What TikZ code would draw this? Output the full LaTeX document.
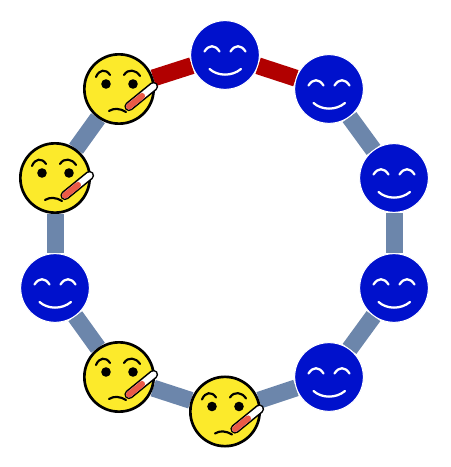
\documentclass[tikz,border=0pt]{standalone}
\usetikzlibrary{backgrounds}
\definecolor{faceblue}{HTML}{0011CC}
\definecolor{faceyellow}{HTML}{FCEA2B}
\definecolor{linkgray}{HTML}{6C86AB}
\definecolor{linkred}{HTML}{B10000}
\definecolor{thermred}{HTML}{EA5A47}
\tikzset{
  x=0.75pt,y=0.75pt,
  bluebase/.style={circle,inner sep=0pt,minimum size=51.5pt,fill=faceblue,draw=white,line width=0.75pt},
  sickbase/.style={circle,inner sep=0pt,minimum size=52pt,fill=faceyellow,draw=black,line width=2pt},
  linkg/.style={draw=linkgray,line width=12.75pt},
  linkr/.style={draw=linkred,line width=12.75pt},
  smile/.pic={
    \draw[white,line width=1.7pt,line cap=round] (-20.5,3.5) .. controls (-16,10.5) and (-10,10.5) .. (-5.5,3.5);
    \draw[white,line width=1.7pt,line cap=round] (5.5,3.5) .. controls (10,10.5) and (16,10.5) .. (20.5,3.5);
    \draw[white,line width=1.7pt,line cap=round] (-15.5,-14) .. controls (-7,-21.5) and (7,-21.5) .. (16,-14);
  },
  fever/.pic={
    \draw[black,line width=1.6pt,line cap=round] (-23,12) .. controls (-20,19.5) and (-13,20.5) .. (-9,14);
    \draw[black,line width=1.6pt,line cap=round] (5,14) .. controls (9,20.5) and (17,19.5) .. (21,13);
    \fill[black] (-13,5) circle (4.8);
    \fill[black] (14,5) circle (4.8);
    \draw[black,line width=1.6pt,line cap=round] (-10,-22) .. controls (-5,-19) and (0,-19) .. (7,-23);
    \draw[black,line width=7pt,line cap=round] (10,-17.5) -- (34.5,2.5);
    \draw[white,line width=4.6pt,line cap=round] (10,-17.5) -- (34.5,2.5);
    \draw[thermred,line width=4.6pt,line cap=round] (10,-17.5) -- (23,-7);
  },
}
\begin{document}
\begin{tikzpicture}
\useasboundingbox (0,0) rectangle (450,467);
\node[bluebase] (a) at (225,412) {};
\node[bluebase] (b) at (329,378) {};
\node[bluebase] (c) at (394,289) {};
\node[bluebase] (d) at (394,179) {};
\node[bluebase] (e) at (329,90) {};
\node[sickbase] (f) at (225,55.5) {};
\node[sickbase] (g) at (119,90) {};
\node[bluebase] (h) at (55,179) {};
\node[sickbase] (i) at (55,289) {};
\node[sickbase] (j) at (119,378) {};
\begin{pgfonlayer}{background}
\draw[linkr] (j) -- (a);
\draw[linkr] (a) -- (b);
\draw[linkg] (b) -- (c);
\draw[linkg] (c) -- (d);
\draw[linkg] (d) -- (e);
\draw[linkg] (e) -- (f);
\draw[linkg] (f) -- (g);
\draw[linkg] (g) -- (h);
\draw[linkg] (h) -- (i);
\draw[linkg] (i) -- (j);
\end{pgfonlayer}
\pic at (a) {smile};
\pic at (b) {smile};
\pic at (c) {smile};
\pic at (d) {smile};
\pic at (e) {smile};
\pic at (h) {smile};
\pic at (f) {fever};
\pic at (g) {fever};
\pic at (i) {fever};
\pic at (j) {fever};
\end{tikzpicture}
\end{document}
